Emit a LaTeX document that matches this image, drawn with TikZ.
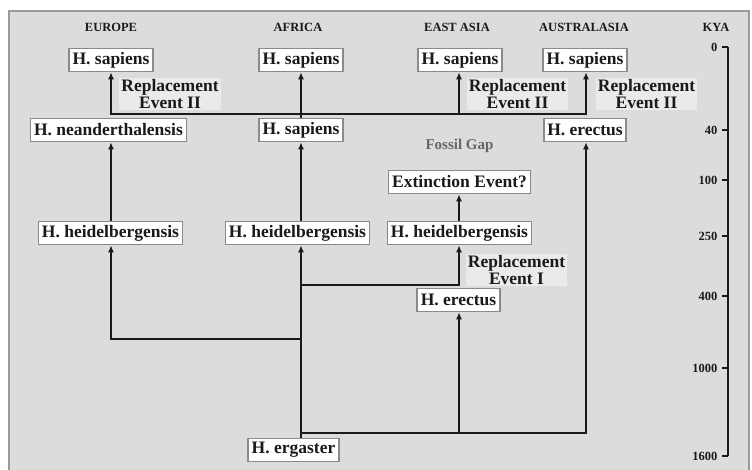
\documentclass[tikz,border=0pt]{standalone}
\usepackage{fontspec}
\setmainfont{Liberation Serif}
\usetikzlibrary{arrows.meta}
\definecolor{bg}{HTML}{DCDCDC}
\definecolor{framegray}{HTML}{9A9A9A}
\definecolor{boxgray}{HTML}{8A8A8A}
\definecolor{repbg}{HTML}{EAEAEA}
\definecolor{gaptext}{HTML}{666666}
\definecolor{ink}{HTML}{1A1A1A}
\begin{document}
\begin{tikzpicture}[x=1pt,y=-1pt,
  sbox/.style={draw=boxgray, line width=1.6pt, fill=white, inner xsep=3.5pt, inner ysep=1pt,
    minimum height=23pt, text=ink, font=\fontsize{17.5}{19}\selectfont\bfseries},
  hdr/.style={text=ink, font=\fontsize{12.5}{14}\selectfont\bfseries},
  rep/.style={fill=repbg, align=center, inner xsep=2pt, inner ysep=1.5pt, text=ink,
    font=\fontsize{17.5}{16.5}\selectfont\bfseries},
  kya/.style={anchor=east, text=ink, font=\fontsize{12.5}{13}\selectfont\bfseries},
  ln/.style={line width=2.3pt, draw=ink},
  arr/.style={ln, -{Latex[length=7pt,width=6pt]}},
]
\useasboundingbox (0,0) rectangle (752,470);
\clip (0,0) rectangle (752,470);
\fill[white] (0,0) rectangle (752,470);
\draw[fill=bg, draw=framegray, line width=1.8pt] (9,11) rectangle (749,490);

% column coordinates
\coordinate (cEU) at (111,0);
\coordinate (cAF) at (301,0);
\coordinate (cEA) at (459,0);
\coordinate (cAU) at (586,0);

% headers
\node[hdr] (hEU) at (111,27) {EUROPE};
\node[hdr] (hAF) at (298,27) {AFRICA};
\node[hdr] (hEA) at (457,27) {EAST ASIA};
\node[hdr] (hAU) at (584,27) {AUSTRALASIA};
\node[hdr] (hKY) at (716,27) {KYA};

% boxes
\node[sbox] (eu1) at (111,60) {H. sapiens};
\node[sbox] (af1) at (301,60) {H. sapiens};
\node[sbox] (ea1) at (460,60) {H. sapiens};
\node[sbox] (au1) at (585,60) {H. sapiens};

\node[sbox] (eu2) at (108.5,130) {H. neanderthalensis};
\node[sbox] (af2) at (301,130) {H. sapiens};
\node[sbox] (au2) at (585,130) {H. erectus};

\node[sbox] (ext) at (459.5,182) {Extinction Event?};

\node[sbox] (eu3) at (110.5,233) {H. heidelbergensis};
\node[sbox] (af3) at (297.5,233) {H. heidelbergensis};
\node[sbox] (ea3) at (459.5,233) {H. heidelbergensis};

\node[sbox] (ea4) at (458.5,300) {H. erectus};
\node[sbox] (erg) at (293.5,450) {H. ergaster};

% labels
\node[rep] (r1) at (170,94) {Replacement\\Event II};
\node[rep] (r2) at (517.5,94) {Replacement\\Event II};
\node[rep] (r3) at (646.5,94) {Replacement\\Event II};
\node[rep] (r4) at (516.5,270) {Replacement\\Event I};
\node[text=gaptext, font=\fontsize{15}{16}\selectfont\bfseries] (gap) at (459.5,146) {Fossil Gap};

% junctions
\coordinate (j2) at (301,114);
\coordinate (jA) at (301,285);
\coordinate (jB) at (301,339);
\coordinate (jC) at (301,433);

% connectors
\draw[arr] (af2.north -| cAF) -- (af1.south -| cAF);
\draw[arr] (j2) -| (eu1.south -| cEU);
\draw[arr] (j2) -| (ea1.south -| cEA);
\draw[arr] (j2) -| (au1.south -| cAU);

\draw[arr] (eu3.north -| cEU) -- (eu2.south -| cEU);
\draw[arr] (af3.north -| cAF) -- (af2.south -| cAF);
\draw[arr] (ea3.north -| cEA) -- (ext.south -| cEA);

\draw[arr] (erg.north -| cAF) -- (af3.south -| cAF);
\draw[arr] (jA) -| (ea3.south -| cEA);
\draw[arr] (jB) -| (eu3.south -| cEU);
\draw[arr] (jC) -| (ea4.south -| cEA);
\draw[arr] (jC) -| (au2.south -| cAU);

% time axis
\coordinate (ax0) at (728,47);
\coordinate (ax1) at (728,456);
\draw[line width=1.6pt, draw=ink] (ax0) -- (ax1);
\foreach \v/\y in {0/47,40/130,100/180,250/236,400/296,1000/368,1600/456}{
  \draw[line width=1.6pt, draw=ink] (722,\y) -- (728,\y);
  \node[kya] at (721,\y) {\v};
}
\end{tikzpicture}
\end{document}
